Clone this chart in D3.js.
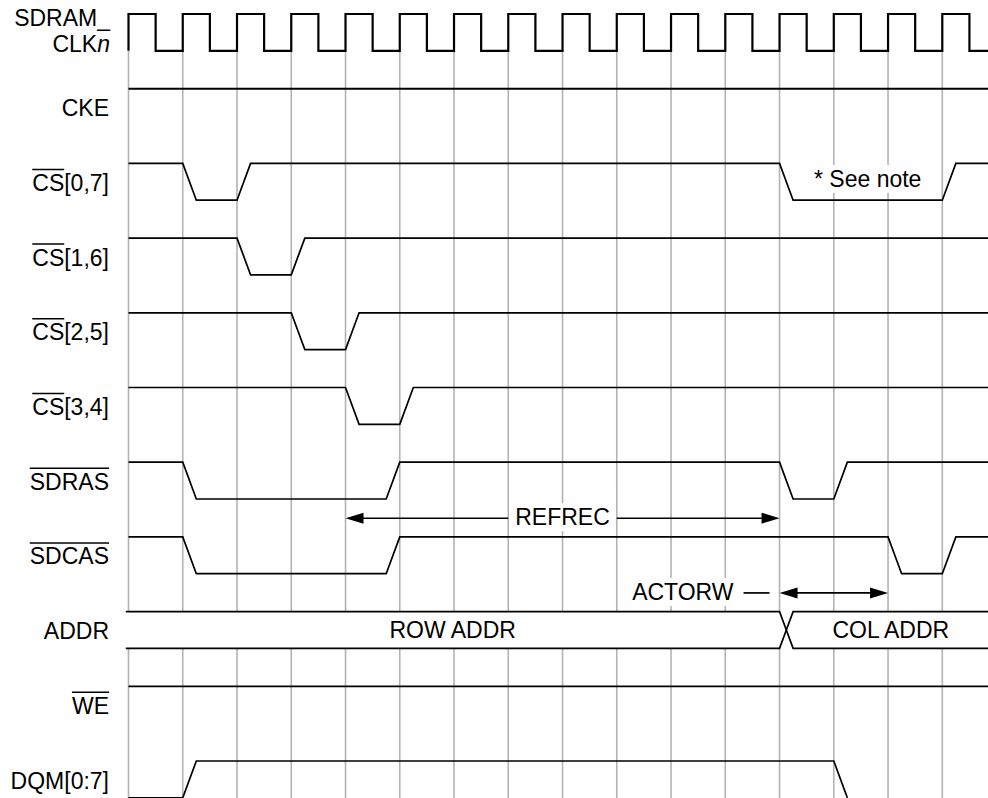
<!DOCTYPE html>
<html><head><meta charset="utf-8">
<script src="https://cdn.jsdelivr.net/npm/d3@7"></script>
<style>body{margin:0;background:#fff}svg{display:block}</style>
</head><body>
<svg id="c" width="988" height="798"></svg>
<script>
// ---- data (times in clock cycles) ----
const gridTimes = [0,1,2,3,4,5,6,7,8,9,10,11,12,13,14,15];
const clockEdges = [0,0.5,1,1.5,2,2.5,3,3.5,4,4.5,5,5.5,6,6.5,7,7.5,8,8.5,9,9.5,10,10.5,11,11.5,12,12.5,13,13.5,14,14.5,15,15.5];
const tEnd = 15.85;
const ckeWave   = [[0,1],[tEnd,1]];
const cs07Wave  = [[0,1],[1,1],[1.25,0],[2,0],[2.25,1],[12,1],[12.25,0],[15,0],[15.25,1],[tEnd,1]];
const cs16Wave  = [[0,1],[2,1],[2.25,0],[3,0],[3.25,1],[tEnd,1]];
const cs25Wave  = [[0,1],[3,1],[3.25,0],[4,0],[4.25,1],[tEnd,1]];
const cs34Wave  = [[0,1],[4,1],[4.25,0],[5,0],[5.25,1],[tEnd,1]];
const sdrasWave = [[0,1],[1,1],[1.25,0],[4.75,0],[5,1],[12,1],[12.25,0],[13,0],[13.25,1],[tEnd,1]];
const sdcasWave = [[0,1],[1,1],[1.25,0],[4.75,0],[5,1],[14,1],[14.25,0],[15,0],[15.25,1],[tEnd,1]];
const weWave    = [[0,1],[tEnd,1]];
const dqmWave   = [[0,0],[1,0],[1.25,1],[13,1],[13.25,0]];
const addrSegments = [[-0.05,12],[12.25,tEnd]];
const addrLabels = ["ROW ADDR","COL ADDR"];
const signalLabels = ["CKE","CS[0,7]","CS[1,6]","CS[2,5]","CS[3,4]","SDRAS","SDCAS","ADDR","WE","DQM[0:7]"];
const overlineChars = [0,2,2,2,2,5,5,0,2,0];
const clockLabel = ["SDRAM_","CLK"];
const noteText = "* See note";
const noteTime = 13.625;
const refrecSpan = [4,12];
const actorwSpan = [12,14];

// ---- scales ----
const x = d3.scaleLinear().domain([0,15]).range([128.5,942.3]);
const row = d3.scaleLinear().domain([0,10]).range([14,761]);
const swing = 36.8;
const FONT = "'Liberation Sans', Arial, Helvetica, sans-serif";
const FS = 23;

const svg = d3.select("#c");
const gGrid = svg.append("g");
const gBg = svg.append("g");
const gSig = svg.append("g");
const gTxt = svg.append("g");

// grid
gGrid.selectAll("line").data(gridTimes).join("line")
  .attr("x1", d => x(d)).attr("x2", d => x(d))
  .attr("y1", row(0)+swing).attr("y2", 798)
  .attr("stroke", "#b3b3b3").attr("stroke-width", 1.6);

function wave(points, r) {
  const hi = row(r), lo = row(r) + swing;
  return d3.line().x(d => x(d[0])).y(d => d[1] ? hi : lo)(points);
}

// clock
const clkPts = [[0,0]];
let lvl = 0;
clockEdges.forEach(t => { clkPts.push([t,lvl]); lvl = 1-lvl; clkPts.push([t,lvl]); });
clkPts.push([tEnd,lvl]);
gSig.append("path").attr("d", wave(clkPts,0)).attr("fill","none").attr("stroke","#000").attr("stroke-width",2.2);

const waves = [[ckeWave,1],[cs07Wave,2],[cs16Wave,3],[cs25Wave,4],[cs34Wave,5],[sdrasWave,6],[sdcasWave,7],[weWave,9],[dqmWave,10]];
waves.forEach(([w,r]) => {
  gSig.append("path").attr("d", wave(w,r)).attr("fill","none").attr("stroke","#000")
    .attr("stroke-width", r===1 ? 2 : 1.7).attr("stroke-linejoin","miter");
});

// bus
const bTop = row(8), bBot = row(8)+swing, bMid = (bTop+bBot)/2;
addrSegments.forEach((s,i) => {
  const [a,b] = s;
  let d;
  if (i === 0) {
    d = `M${x(a)},${bTop}L${x(b)},${bTop}L${x(b+0.125)},${bMid}L${x(b)},${bBot}L${x(a)},${bBot}`;
  } else {
    d = `M${x(b)},${bTop}L${x(a)},${bTop}L${x(a-0.125)},${bMid}L${x(a)},${bBot}L${x(b)},${bBot}`;
  }
  gSig.append("path").attr("d", d).attr("fill","#fff").attr("stroke","#000").attr("stroke-width",1.7);
  gTxt.append("text").attr("x", x((a+b)/2)).attr("y", bTop+26).attr("text-anchor","middle")
    .attr("font-family",FONT).attr("font-size",FS).text(addrLabels[i]);
});

// labels
const LX = 109;
const cl = gTxt.append("g").attr("font-family",FONT).attr("font-size",FS).attr("text-anchor","end");
cl.append("text").attr("x",LX+1).attr("y",row(0)+12).text(clockLabel[0]);
const t2 = cl.append("text").attr("x",LX+1).attr("y",row(0)+38);
t2.append("tspan").text(clockLabel[1]);
t2.append("tspan").attr("font-style","italic").text("n");

signalLabels.forEach((s,i) => {
  const r = i+1;
  const by = row(r) + 27.5;
  const t = gTxt.append("text").attr("x",LX).attr("y",by).attr("text-anchor","end")
    .attr("font-family",FONT).attr("font-size",FS).text(s);
  if (overlineChars[i] > 0) {
    const node = t.node();
    const start = LX - node.getComputedTextLength();
    const w = node.getSubStringLength(0, overlineChars[i]);
    gTxt.append("line").attr("x1",start).attr("x2",start+w).attr("y1",by-21.5).attr("y2",by-21.5)
      .attr("stroke","#000").attr("stroke-width",1.5);
  }
});

function bgText(tx, ty, str, anchor) {
  const t = gTxt.append("text").attr("x",tx).attr("y",ty).attr("text-anchor",anchor)
    .attr("font-family",FONT).attr("font-size",FS).text(str);
  const bb = t.node().getBBox();
  gBg.append("rect").attr("x",bb.x-4).attr("y",bb.y-1).attr("width",bb.width+8).attr("height",bb.height+2).attr("fill","#fff");
  return bb;
}

// see note
bgText(x(noteTime), row(2)+23.5, noteText, "middle");

function arrowHead(px, py, dir) {
  const L = 18, H = 5.5;
  gSig.append("path").attr("d",`M${px},${py}L${px-dir*L},${py-H}L${px-dir*L},${py+H}Z`).attr("fill","#000");
}

// REFREC
{
  const y = row(6.75);
  const a = x(refrecSpan[0]), b = x(refrecSpan[1]);
  const bb = bgText((a+b)/2, y+7, "REFREC", "middle");
  gSig.append("line").attr("x1",a+10).attr("x2",bb.x-7).attr("y1",y).attr("y2",y).attr("stroke","#000").attr("stroke-width",1.7);
  gSig.append("line").attr("x1",bb.x+bb.width+7).attr("x2",b-10).attr("y1",y).attr("y2",y).attr("stroke","#000").attr("stroke-width",1.7);
  arrowHead(a, y, -1); arrowHead(b, y, 1);
}
// ACTORW
{
  const y = row(7.75);
  const a = x(actorwSpan[0]), b = x(actorwSpan[1]);
  bgText(a-46, y+7, "ACTORW", "end");
  gSig.append("line").attr("x1",a-36).attr("x2",a-10).attr("y1",y).attr("y2",y).attr("stroke","#000").attr("stroke-width",1.7);
  gSig.append("line").attr("x1",a+10).attr("x2",b-10).attr("y1",y).attr("y2",y).attr("stroke","#000").attr("stroke-width",1.7);
  arrowHead(a, y, -1); arrowHead(b, y, 1);
}
</script>
</body></html>
